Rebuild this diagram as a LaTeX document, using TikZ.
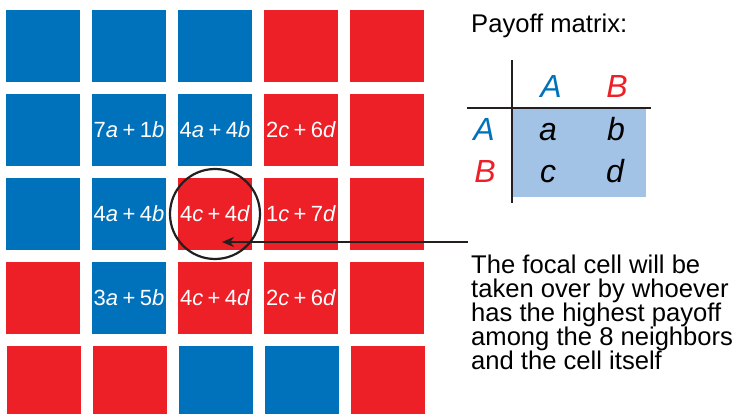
\documentclass[tikz,border=0pt]{standalone}
\usepackage{fontspec}
\setmainfont{Liberation Sans}
\usepackage{xcolor}
\usetikzlibrary{arrows.meta}

\definecolor{cellblue}{RGB}{0,114,188}
\definecolor{cellred}{RGB}{237,32,39}
\definecolor{matfill}{RGB}{163,195,230}
\definecolor{inkgray}{RGB}{35,31,32}
\newcommand{\pls}{\kern0.2em+\kern0.2em}

\begin{document}
\begin{tikzpicture}[x=1pt, y=-1pt,
    cell/.style={minimum width=74pt, minimum height=72pt, inner sep=0pt, outer sep=0pt},
    celltext/.style={text=white, inner sep=0pt, font=\fontsize{22}{22}\selectfont},
    matlab/.style={anchor=base, inner sep=0pt, font=\fontsize{32}{32}\selectfont\itshape},
    note/.style={inner sep=0pt, font=\fontsize{25.6}{24}\selectfont}]
    \useasboundingbox (0, 0) rectangle (736, 414);

    % 5x5 lattice of strategies
    \foreach \c [count=\i from 0] in {cellblue, cellblue, cellblue, cellred, cellred}
        \node[cell, fill=\c] (c\i-0) at ({43+86*\i}, 46) {};
    \foreach \c [count=\i from 0] in {cellblue, cellblue, cellblue, cellred, cellred}
        \node[cell, fill=\c] (c\i-1) at ({43+86*\i}, 130) {};
    \foreach \c [count=\i from 0] in {cellblue, cellblue, cellred, cellred, cellred}
        \node[cell, fill=\c] (c\i-2) at ({43+86*\i}, 214) {};
    \foreach \c [count=\i from 0] in {cellred, cellblue, cellred, cellred, cellred}
        \node[cell, fill=\c] (c\i-3) at ({43+86*\i}, 298) {};
    \foreach \c [count=\i from 0] in {cellred, cellred, cellblue, cellblue, cellred}
        \node[cell, fill=\c] (c\i-4) at ({44+86*\i}, 382) {};

    % payoffs of the focal neighbourhood
    \node[celltext] (p1-1) at (c1-1) {7\textit{a}\pls1\textit{b}};
    \node[celltext] (p2-1) at (c2-1) {4\textit{a}\pls4\textit{b}};
    \node[celltext] (p3-1) at (c3-1) {2\textit{c}\pls6\textit{d}};
    \node[celltext] (p1-2) at (c1-2) {4\textit{a}\pls4\textit{b}};
    \node[celltext] (p2-2) at (c2-2) {4\textit{c}\pls4\textit{d}};
    \node[celltext] (p3-2) at (c3-2) {1\textit{c}\pls7\textit{d}};
    \node[celltext] (p1-3) at (c1-3) {3\textit{a}\pls5\textit{b}};
    \node[celltext] (p2-3) at (c2-3) {4\textit{c}\pls4\textit{d}};
    \node[celltext] (p3-3) at (c3-3) {2\textit{c}\pls6\textit{d}};

    \node[draw=inkgray, circle, line width=2.2pt, minimum size=90pt, inner sep=0pt] (focus) at (c2-2) {};

    % payoff matrix
    \fill[matfill] (512, 108) rectangle (646, 197);
    \draw[inkgray, line width=1.5pt] (512, 60) -- (512, 203);
    \draw[inkgray, line width=1.5pt] (467, 108) -- (651, 108);

    \node[note, anchor=base west] (title) at (471, 33) {Payoff matrix:};
    \node[matlab, text=cellblue] (colA) at (551, 98) {A};
    \node[matlab, text=cellred] (colB) at (617, 98) {B};
    \node[matlab, text=cellblue] (rowA) at (484, 141) {A};
    \node[matlab, text=cellred] (rowB) at (485, 183) {B};
    \node[matlab] (ma) at (548, 141) {a};
    \node[matlab] (mb) at (616, 141) {b};
    \node[matlab] (mc) at (548, 183) {c};
    \node[matlab] (md) at (615, 183) {d};

    % explanation
    \node[note, anchor=north west, align=left] (rule) at (471, 254.5)
        {The focal cell will be\\taken over by whoever\\has the highest payoff\\among the 8 neighbors\\and the cell itself};

    \coordinate (tail) at (468, 242);
    \coordinate (tip) at (222, 242);
    \draw[inkgray, line width=2.2pt, -{Stealth[length=12pt, width=10pt]}] (tail) -- (tip);
\end{tikzpicture}
\end{document}
